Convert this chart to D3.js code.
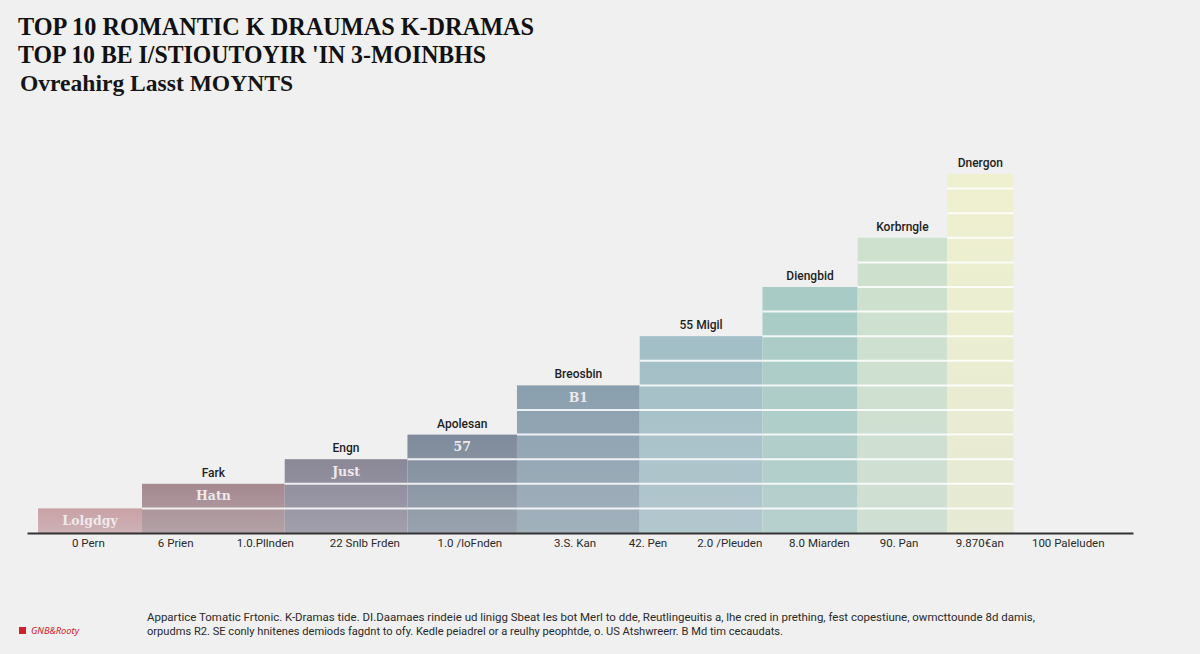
<!DOCTYPE html>
<html>
<head>
<meta charset="utf-8">
<script src="https://cdn.jsdelivr.net/npm/d3@7"></script>
<style>
  html, body { margin: 0; padding: 0; background: #f0f0f0; }
  svg { display: block; }
</style>
</head>
<body>
<svg class="chart" width="1200" height="654"></svg>
<script>
const titleLines = [
  "TOP 10 ROMANTIC K DRAUMAS K-DRAMAS",
  "TOP 10 BE I/STIOUTOYIR 'IN 3-MOINBHS"
];
const subtitle = "Ovreahirg Lasst MOYNTS";

// bars, left to right
const topLabels = ["", "Fark", "Engn", "Apolesan", "Breosbin", "55 Migil", "Diengbid", "Korbrngle", "Dnergon"];
const innerLabels = ["Lolgdgy", "Hatn", "Just", "57", "B1", "", "", "", ""];
const heights = [1, 2, 3, 4, 6, 8, 10, 12, 14.6];
const barStarts = [1.0, 10.4, 23.3, 34.4, 44.3, 55.4, 66.5, 75.1, 83.2];
const barEnds = [10.4, 23.3, 34.4, 44.3, 55.4, 66.5, 75.1, 83.2, 89.2];
const barColors = ["#c9a1a5", "#a4898f", "#8a8797", "#7f8b9b", "#8a9fae", "#a2bec6", "#a8cbc5", "#cde1ce", "#eef0cf"];

// x axis labels
const tickLabels = ["0 Pern", "6 Prien", "1.0.Pllnden", "22 Snlb Frden", "1.0 /loFnden", "3.S. Kan",
  "42. Pen", "2.0 /Pleuden", "8.0 Miarden", "90. Pan", "9.870€an", "100 Paleluden"];
const tickPositions = [5.5, 13.4, 21.5, 30.5, 40.0, 49.5, 56.1, 63.5, 71.6, 78.8, 86.1, 94.1];

const noteLines = [
  "Appartice Tomatic Frtonic. K-Dramas tide. DI.Daamaes rindeie ud linigg Sbeat les bot Merl to dde, Reutlingeuitis a, lhe cred in prething, fest copestiune, owmcttounde 8d damis,",
  "orpudms R2. SE conly hnitenes demiods fagdnt to ofy. Kedle peiadrel or a reulhy peophtde, o. US Atshwreerr. B Md tim cecaudats."
];
const sourceLabel = "GNB&Rooty";

const svg = d3.select(".chart");

svg.append("rect").attr("width", 1200).attr("height", 654).attr("fill", "#f0f0f0");

const x = d3.scaleLinear().domain([0, 100]).range([27, 1133]);
const y = d3.scaleLinear().domain([0, 15]).range([533, 164]);

const bars = heights.map((h, i) => ({
  h,
  x0: barStarts[i],
  x1: barEnds[i],
  color: barColors[i],
  top: topLabels[i],
  inner: innerLabels[i],
  i
}));

// gradients, slightly washed towards the bottom
const defs = svg.append("defs");
bars.forEach((d) => {
  const g = defs.append("linearGradient")
    .attr("id", "grad" + d.i)
    .attr("x1", 0).attr("y1", 0).attr("x2", 0).attr("y2", 1);
  g.append("stop").attr("offset", "0%").attr("stop-color", d.color);
  g.append("stop").attr("offset", "100%")
    .attr("stop-color", d3.interpolateRgb(d.color, "#d6dbde")(0.3));
});

const barGroup = svg.append("g");

barGroup.selectAll("rect")
  .data(bars)
  .enter()
  .append("rect")
  .attr("x", (d) => x(d.x0))
  .attr("width", (d) => x(d.x1) - x(d.x0))
  .attr("y", (d) => y(d.h))
  .attr("height", (d) => y(0) - y(d.h))
  .attr("fill", (d) => `url(#grad${d.i})`);

// white step lines inside each bar
bars.forEach((d) => {
  const steps = d3.range(1, Math.ceil(d.h));
  barGroup.selectAll(null)
    .data(steps)
    .enter()
    .append("line")
    .attr("x1", x(d.x0))
    .attr("x2", x(d.x1))
    .attr("y1", (k) => y(k))
    .attr("y2", (k) => y(k))
    .attr("stroke", "#ffffff")
    .attr("stroke-opacity", 0.85)
    .attr("stroke-width", 2);
});

// labels above bars
barGroup.selectAll("text.top")
  .data(bars.filter((d) => d.top))
  .enter()
  .append("text")
  .attr("class", "top")
  .attr("x", (d) => (x(d.x0) + x(d.x1)) / 2)
  .attr("y", (d) => y(d.h) - 7)
  .attr("text-anchor", "middle")
  .attr("font-family", "Roboto, 'Noto Sans', sans-serif")
  .attr("font-weight", 500)
  .attr("font-size", 12)
  .attr("fill", "#1e1e1e")
  .text((d) => d.top);

// labels inside the top step
barGroup.selectAll("text.inner")
  .data(bars.filter((d) => d.inner))
  .enter()
  .append("text")
  .attr("class", "inner")
  .attr("x", (d) => (x(d.x0) + x(d.x1)) / 2)
  .attr("y", (d) => y(d.h - 0.5))
  .attr("dy", "0.35em")
  .attr("text-anchor", "middle")
  .attr("font-family", "'DejaVu Serif', serif")
  .attr("font-weight", "bold")
  .attr("font-size", 12.5)
  .attr("fill", "#efe9ec")
  .text((d) => d.inner);

// x axis
const xAxis = d3.axisBottom(x)
  .tickValues(tickPositions)
  .tickFormat((d, i) => tickLabels[i])
  .tickSize(0)
  .tickPadding(6);

const axisG = svg.append("g")
  .attr("transform", `translate(0, ${y(0)})`)
  .call(xAxis);

axisG.select(".domain").attr("stroke", "#333").attr("stroke-width", 2);
axisG.selectAll("text")
  .attr("font-family", "Roboto, 'Noto Sans', sans-serif")
  .attr("font-size", 11.5)
  .attr("fill", "#2a2a2a");

// titles
const titleFont = "'Liberation Serif', 'Times New Roman', serif";
svg.append("text")
  .attr("x", 18).attr("y", 35)
  .attr("font-family", titleFont).attr("font-weight", "bold")
  .attr("font-size", 26).attr("fill", "#111")
  .attr("textLength", 516).attr("lengthAdjust", "spacingAndGlyphs")
  .text(titleLines[0]);
svg.append("text")
  .attr("x", 18).attr("y", 63)
  .attr("font-family", titleFont).attr("font-weight", "bold")
  .attr("font-size", 26).attr("fill", "#111")
  .attr("textLength", 468).attr("lengthAdjust", "spacingAndGlyphs")
  .text(titleLines[1]);
svg.append("text")
  .attr("x", 20).attr("y", 91)
  .attr("font-family", titleFont).attr("font-weight", "bold")
  .attr("font-size", 24).attr("fill", "#151515")
  .attr("textLength", 273).attr("lengthAdjust", "spacingAndGlyphs")
  .text(subtitle);

// footnote
const noteWidths = [888, 636];
svg.selectAll("text.note")
  .data(noteLines)
  .enter()
  .append("text")
  .attr("class", "note")
  .attr("x", 147)
  .attr("y", (d, i) => 621 + i * 14)
  .attr("font-family", "Roboto, 'Noto Sans', sans-serif")
  .attr("font-size", 10)
  .attr("fill", "#2a2a2a")
  .attr("textLength", (d, i) => noteWidths[i])
  .attr("lengthAdjust", "spacingAndGlyphs")
  .text((d) => d);

svg.append("rect")
  .attr("x", 19).attr("y", 627).attr("width", 7).attr("height", 7)
  .attr("fill", "#d0202a");
svg.append("text")
  .attr("x", 31).attr("y", 634)
  .attr("font-family", "'Noto Sans', sans-serif")
  .attr("font-style", "italic")
  .attr("font-size", 8)
  .attr("fill", "#d0202a")
  .attr("textLength", 48).attr("lengthAdjust", "spacingAndGlyphs")
  .text(sourceLabel);
</script>
</body>
</html>
